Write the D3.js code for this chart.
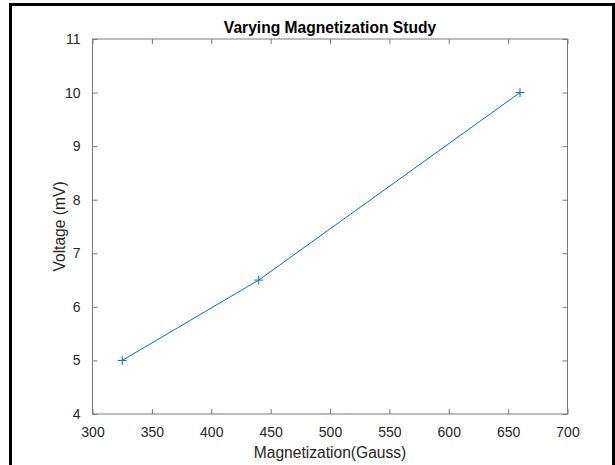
<!DOCTYPE html>
<html>
<head>
<meta charset="utf-8">
<script src="https://cdn.jsdelivr.net/npm/d3@7"></script>
<style>
  html, body { margin: 0; padding: 0; background: #fff; }
  svg { display: block; font-family: "Liberation Sans", Arial, Helvetica, sans-serif; }
</style>
</head>
<body>
<svg id="chart" width="615" height="465"></svg>
<script>
// Data
const magnetization = [325, 440, 660];
const voltage = [5, 6.5, 10];
const xTicks = [300, 350, 400, 450, 500, 550, 600, 650, 700];
const yTicks = [4, 5, 6, 7, 8, 9, 10, 11];
const titleText = "Varying Magnetization Study";
const xLabelText = "Magnetization(Gauss)";
const yLabelText = "Voltage (mV)";

const svg = d3.select("#chart");
const W = 615, H = 465;
const L = 92.5, R = 567.5, T = 39, B = 414;

// outer frame (top, left, right only as in screenshot)
svg.append("path")
  .attr("d", `M10.5,${H} L10.5,4.5 L613.5,4.5 L613.5,${H}`)
  .attr("fill", "none").attr("stroke", "#000").attr("stroke-width", 3);

const x = d3.scaleLinear().domain([300, 700]).range([L, R]);
const y = d3.scaleLinear().domain([4, 11]).range([B, T]);

const axisColor = "#7a7a7a";
const textColor = "#262626";
const tickLen = 5;

// axes box
svg.append("rect")
  .attr("x", L).attr("y", T).attr("width", R - L).attr("height", B - T)
  .attr("fill", "none").attr("stroke", axisColor).attr("stroke-width", 1);

function styleAxis(g) {
  g.select(".domain").remove();
  g.selectAll(".tick line").attr("stroke", axisColor);
  g.selectAll(".tick text").attr("fill", textColor).attr("font-size", 14);
}

// bottom axis with labels
svg.append("g").attr("transform", `translate(0,${B})`)
  .call(d3.axisBottom(x).tickValues(xTicks).tickSizeInner(-tickLen).tickSizeOuter(0).tickPadding(13).tickFormat(d3.format("d")))
  .call(styleAxis);
// top ticks
svg.append("g").attr("transform", `translate(0,${T})`)
  .call(d3.axisTop(x).tickValues(xTicks).tickSizeInner(-tickLen).tickSizeOuter(0).tickFormat(""))
  .call(styleAxis);
// left axis with labels
svg.append("g").attr("transform", `translate(${L},0)`)
  .call(d3.axisLeft(y).tickValues(yTicks).tickSizeInner(-tickLen).tickSizeOuter(0).tickPadding(12).tickFormat(d3.format("d")))
  .call(styleAxis);
// right ticks
svg.append("g").attr("transform", `translate(${R},0)`)
  .call(d3.axisRight(y).tickValues(yTicks).tickSizeInner(-tickLen).tickSizeOuter(0).tickFormat(""))
  .call(styleAxis);

// line
const pts = magnetization.map((m, i) => [m, voltage[i]]);
svg.append("path")
  .datum(pts)
  .attr("d", d3.line().x(d => x(d[0])).y(d => y(d[1])))
  .attr("fill", "none").attr("stroke", "#0072BD").attr("stroke-width", 1);

// plus markers
const s = 4.5;
svg.selectAll(".mk").data(pts).enter().append("path")
  .attr("class", "mk")
  .attr("d", d => { const cx = x(d[0]), cy = y(d[1]); return `M${cx - s},${cy}H${cx + s}M${cx},${cy - s}V${cy + s}`; })
  .attr("stroke", "#0072BD").attr("stroke-width", 1).attr("fill", "none");

// title
svg.append("text").attr("x", (L + R) / 2).attr("y", 33)
  .attr("text-anchor", "middle").attr("font-size", 15.6).attr("font-weight", "bold")
  .attr("fill", "#000").text(titleText);

// x label
svg.append("text").attr("x", (L + R) / 2).attr("y", 458)
  .attr("text-anchor", "middle").attr("font-size", 15.6).attr("fill", textColor).text(xLabelText);

// y label
svg.append("text").attr("transform", `translate(65,${(T + B) / 2}) rotate(-90)`)
  .attr("text-anchor", "middle").attr("font-size", 15.6).attr("fill", textColor).text(yLabelText);
</script>
</body>
</html>
